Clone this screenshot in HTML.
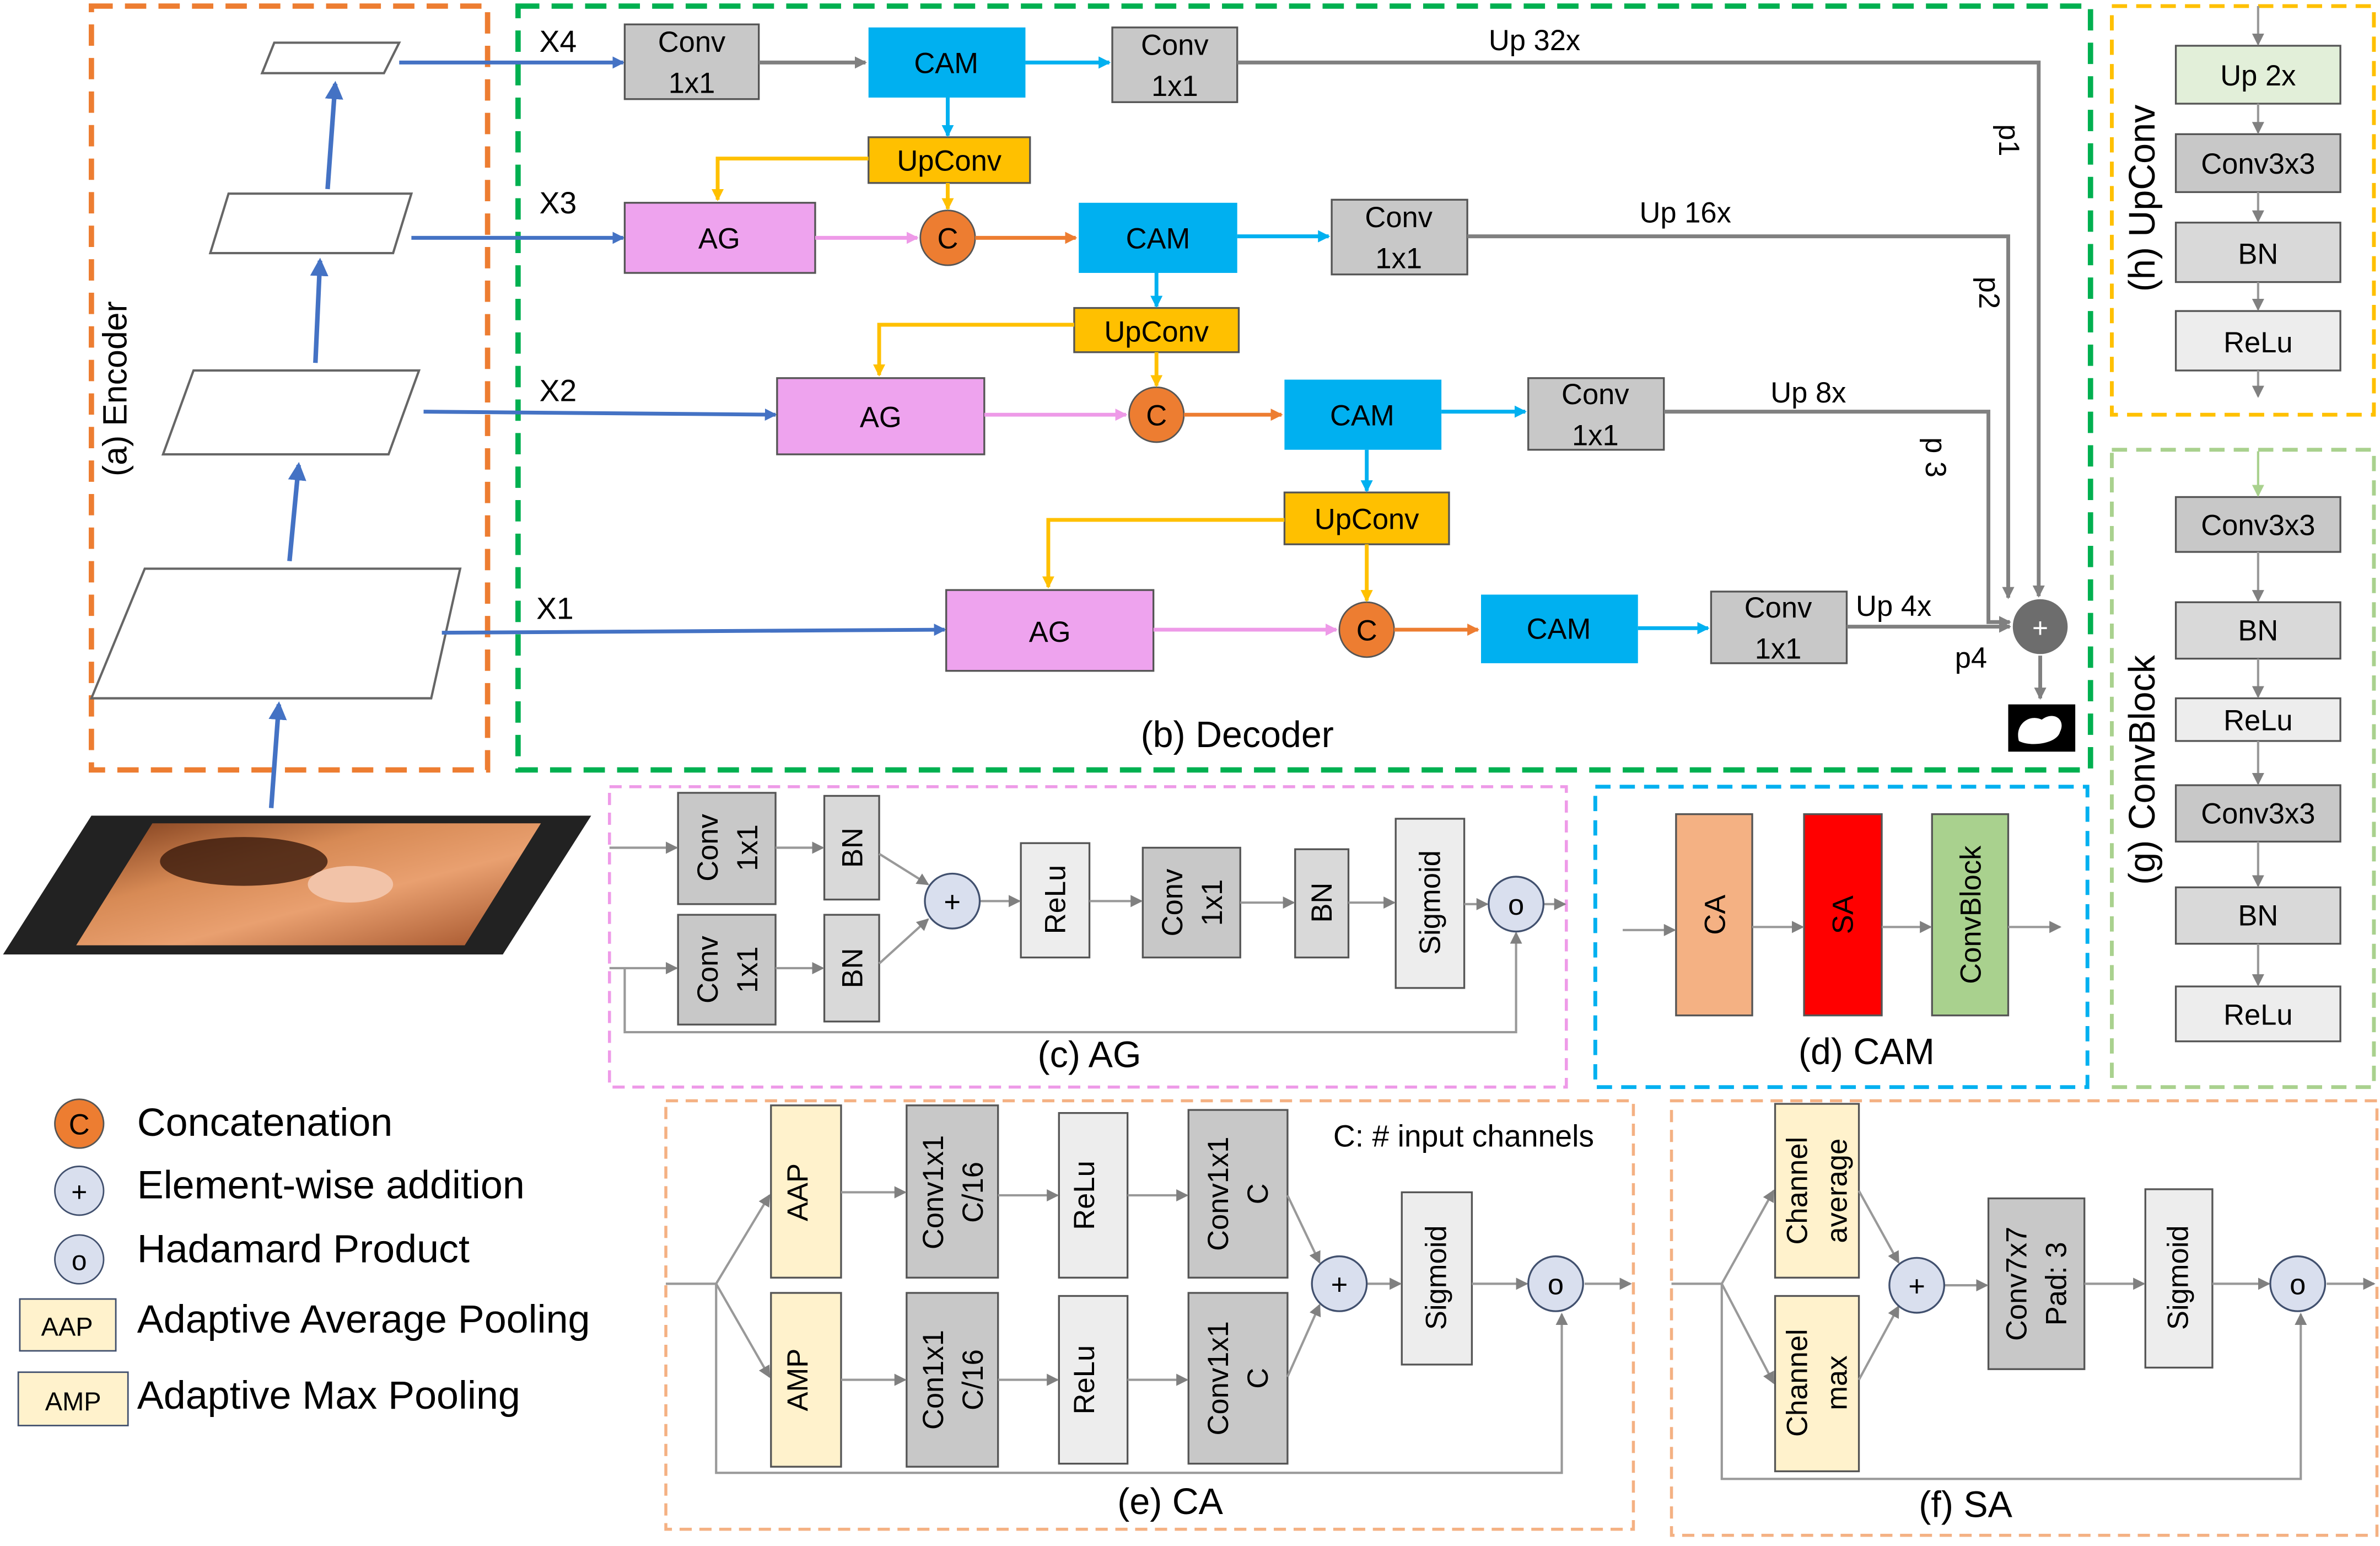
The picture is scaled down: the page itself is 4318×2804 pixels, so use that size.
<!DOCTYPE html>
<html><head><meta charset="utf-8"><style>
html,body{margin:0;padding:0;background:#fff;}
svg{display:block;}
text{font-family:"Liberation Sans",sans-serif;fill:#000;}
</style></head><body>
<svg width="4318" height="2804" viewBox="0 0 1562 1014" preserveAspectRatio="none" xmlns="http://www.w3.org/2000/svg">
<defs>
<marker id="mb" markerWidth="8" markerHeight="8" refX="7" refY="4" orient="auto" markerUnits="userSpaceOnUse"><path d="M0,0 L8,4 L0,8z" fill="#4472c4"/></marker>
<marker id="mg" markerWidth="8" markerHeight="8" refX="7" refY="4" orient="auto" markerUnits="userSpaceOnUse"><path d="M0,0 L8,4 L0,8z" fill="#808080"/></marker>
<marker id="mc" markerWidth="8" markerHeight="8" refX="7" refY="4" orient="auto" markerUnits="userSpaceOnUse"><path d="M0,0 L8,4 L0,8z" fill="#00b0f0"/></marker>
<marker id="mo" markerWidth="8" markerHeight="8" refX="7" refY="4" orient="auto" markerUnits="userSpaceOnUse"><path d="M0,0 L8,4 L0,8z" fill="#ed7d31"/></marker>
<marker id="my" markerWidth="8" markerHeight="8" refX="7" refY="4" orient="auto" markerUnits="userSpaceOnUse"><path d="M0,0 L8,4 L0,8z" fill="#ffc000"/></marker>
<marker id="mp" markerWidth="8" markerHeight="8" refX="7" refY="4" orient="auto" markerUnits="userSpaceOnUse"><path d="M0,0 L8,4 L0,8z" fill="#ee9ae8"/></marker>
<marker id="ml" markerWidth="8" markerHeight="8" refX="7" refY="4" orient="auto" markerUnits="userSpaceOnUse"><path d="M0,0 L8,4 L0,8z" fill="#a9d18e"/></marker>
<marker id="mB" markerWidth="12" markerHeight="12" refX="10" refY="6" orient="auto" markerUnits="userSpaceOnUse"><path d="M0,0 L12,6 L0,12z" fill="#4472c4"/></marker>
<linearGradient id="colon" x1="0" y1="0" x2="1" y2="1"><stop offset="0" stop-color="#7a3a1a"/><stop offset="0.35" stop-color="#d78a55"/><stop offset="0.6" stop-color="#e9a070"/><stop offset="1" stop-color="#a05028"/></linearGradient>
</defs>

<!-- Encoder -->
<rect x="60" y="4" width="260" height="501" fill="none" stroke="#ed7d31" stroke-width="3.5" stroke-dasharray="14,8"/>
<text transform="translate(83,255) rotate(-90)" text-anchor="middle" font-size="22">(a) Encoder</text>
<g fill="#fff" stroke="#666" stroke-width="1.5">
<polygon points="180,28 262,28 252,48 172,48"/>
<polygon points="150,127 270,127 258,166 138,166"/>
<polygon points="127,243 275,243 255,298 107,298"/>
<polygon points="95,373 302,373 283,458 60,458"/>
</g>
<g stroke="#4472c4" stroke-width="3" fill="none">
<line x1="178" y1="530" x2="183" y2="462" marker-end="url(#mB)"/>
<line x1="190" y1="368" x2="196" y2="305" marker-end="url(#mB)"/>
<line x1="207" y1="238" x2="210" y2="171" marker-end="url(#mB)"/>
<line x1="215" y1="124" x2="220" y2="55" marker-end="url(#mB)"/>
</g>
<polygon points="60,535 388,535 330,626 2,626" fill="#222"/>
<polygon points="100,540 355,540 305,620 50,620" fill="url(#colon)"/>
<ellipse cx="160" cy="565" rx="55" ry="16" fill="#3a1a0c" opacity="0.8"/>
<ellipse cx="230" cy="580" rx="28" ry="12" fill="#f2c3a8"/>

<!-- Decoder -->
<rect x="340" y="4" width="1032" height="501" fill="none" stroke="#00b050" stroke-width="3.5" stroke-dasharray="14,8"/>
<text x="812" y="490" text-anchor="middle" font-size="24">(b) Decoder</text>
<g font-size="20">
<text x="354" y="34">X4</text><text x="354" y="140">X3</text><text x="354" y="263">X2</text><text x="352" y="406">X1</text>
</g>
<g stroke="#4472c4" stroke-width="2.5" fill="none">
<line x1="262" y1="41" x2="409" y2="41" marker-end="url(#mb)"/>
<line x1="270" y1="156" x2="409" y2="156" marker-end="url(#mb)"/>
<line x1="278" y1="270" x2="509" y2="272" marker-end="url(#mb)"/>
<line x1="290" y1="415" x2="620" y2="413" marker-end="url(#mb)"/>
</g>
<!-- boxes -->
<g stroke="#555" stroke-width="1.2">
<rect x="410" y="16" width="88" height="49" fill="#c8c8c8"/>
<rect x="730" y="18" width="82" height="49" fill="#c8c8c8"/>
<rect x="874" y="131" width="89" height="49" fill="#c8c8c8"/>
<rect x="1003" y="248" width="89" height="47" fill="#c8c8c8"/>
<rect x="1123" y="388" width="89" height="47" fill="#c8c8c8"/>
<rect x="410" y="133" width="125" height="46" fill="#eea3ee"/>
<rect x="510" y="248" width="136" height="50" fill="#eea3ee"/>
<rect x="621" y="387" width="136" height="53" fill="#eea3ee"/>
<rect x="570" y="90" width="106" height="30" fill="#ffc000"/>
<rect x="705" y="202" width="108" height="29" fill="#ffc000"/>
<rect x="843" y="323" width="108" height="34" fill="#ffc000"/>
</g>
<g fill="#00b0f0">
<rect x="570" y="18" width="103" height="46"/>
<rect x="708" y="133" width="104" height="46"/>
<rect x="843" y="249" width="103" height="46"/>
<rect x="972" y="390" width="103" height="45"/>
</g>
<g font-size="19" text-anchor="middle">
<text x="454" y="34">Conv</text><text x="454" y="61">1x1</text>
<text x="771" y="36">Conv</text><text x="771" y="63">1x1</text>
<text x="918" y="149">Conv</text><text x="918" y="176">1x1</text>
<text x="1047" y="265">Conv</text><text x="1047" y="292">1x1</text>
<text x="1167" y="405">Conv</text><text x="1167" y="432">1x1</text>
<text x="621" y="48">CAM</text><text x="760" y="163">CAM</text><text x="894" y="279">CAM</text><text x="1023" y="419">CAM</text>
<text x="623" y="112">UpConv</text><text x="759" y="224">UpConv</text><text x="897" y="347">UpConv</text>
<text x="472" y="163">AG</text><text x="578" y="280">AG</text><text x="689" y="421">AG</text>
</g>
<g fill="#ed7d31" stroke="#555" stroke-width="1"><circle cx="622" cy="156" r="18"/><circle cx="759" cy="272" r="18"/><circle cx="897" cy="413" r="18"/></g>
<g font-size="19" text-anchor="middle"><text x="622" y="163">C</text><text x="759" y="279">C</text><text x="897" y="420">C</text></g>
<!-- connectors -->
<g stroke-width="2.5" fill="none">
<line x1="498" y1="41" x2="568" y2="41" stroke="#808080" marker-end="url(#mg)"/>
<line x1="673" y1="41" x2="728" y2="41" stroke="#00b0f0" marker-end="url(#mc)"/>
<line x1="812" y1="155" x2="872" y2="155" stroke="#00b0f0" marker-end="url(#mc)"/>
<line x1="946" y1="270" x2="1001" y2="270" stroke="#00b0f0" marker-end="url(#mc)"/>
<line x1="1075" y1="412" x2="1121" y2="412" stroke="#00b0f0" marker-end="url(#mc)"/>
<line x1="622" y1="64" x2="622" y2="89" stroke="#00b0f0" marker-end="url(#mc)"/>
<line x1="759" y1="179" x2="759" y2="201" stroke="#00b0f0" marker-end="url(#mc)"/>
<line x1="897" y1="295" x2="897" y2="322" stroke="#00b0f0" marker-end="url(#mc)"/>
<line x1="622" y1="120" x2="622" y2="137" stroke="#ffc000" marker-end="url(#my)"/>
<line x1="759" y1="231" x2="759" y2="253" stroke="#ffc000" marker-end="url(#my)"/>
<line x1="897" y1="357" x2="897" y2="394" stroke="#ffc000" marker-end="url(#my)"/>
<polyline points="570,104 471,104 471,131" stroke="#ffc000" marker-end="url(#my)"/>
<polyline points="705,213 577,213 577,246" stroke="#ffc000" marker-end="url(#my)"/>
<polyline points="843,341 688,341 688,385" stroke="#ffc000" marker-end="url(#my)"/>
<line x1="535" y1="156" x2="602" y2="156" stroke="#ee9ae8" marker-end="url(#mp)"/>
<line x1="646" y1="272" x2="739" y2="272" stroke="#ee9ae8" marker-end="url(#mp)"/>
<line x1="757" y1="413" x2="877" y2="413" stroke="#ee9ae8" marker-end="url(#mp)"/>
<line x1="640" y1="156" x2="706" y2="156" stroke="#ed7d31" marker-end="url(#mo)"/>
<line x1="777" y1="272" x2="841" y2="272" stroke="#ed7d31" marker-end="url(#mo)"/>
<line x1="915" y1="413" x2="970" y2="413" stroke="#ed7d31" marker-end="url(#mo)"/>
<polyline points="812,41 1338,41 1338,391" stroke="#808080" marker-end="url(#mg)"/>
<polyline points="963,155 1318,155 1318,392" stroke="#808080" marker-end="url(#mg)"/>
<polyline points="1092,270 1305,270 1305,408 1319,408" stroke="#808080" marker-end="url(#mg)"/>
<line x1="1212" y1="411" x2="1319" y2="411" stroke="#808080" marker-end="url(#mg)"/>
<line x1="1339" y1="430" x2="1339" y2="458" stroke="#808080" marker-end="url(#mg)"/>
</g>
<circle cx="1339" cy="411" r="18" fill="#6d6d6d"/>
<text x="1339" y="418" text-anchor="middle" font-size="18" style="fill:#fff">+</text>
<rect x="1318" y="462" width="44" height="31" fill="#000"/>
<path d="M1325,486 C1322,475 1332,468 1340,472 C1348,466 1356,472 1352,480 C1350,488 1332,490 1325,486z" fill="#fff"/>
<g font-size="19">
<text x="977" y="33">Up 32x</text><text x="1076" y="146">Up 16x</text><text x="1162" y="264">Up 8x</text><text x="1218" y="404">Up 4x</text><text x="1283" y="438">p4</text>
<text transform="translate(1312,92) rotate(90)" text-anchor="middle">p1</text>
<text transform="translate(1299,192) rotate(90)" text-anchor="middle">p2</text>
<text transform="translate(1264,300) rotate(90)" text-anchor="middle">p 3</text>
</g>

<!-- (h) UpConv -->
<rect x="1386" y="4" width="172" height="268" fill="none" stroke="#ffc000" stroke-width="2.5" stroke-dasharray="10,6"/>
<text transform="translate(1414,130) rotate(-90)" text-anchor="middle" font-size="24">(h) UpConv</text>
<g stroke="#555" stroke-width="1.2">
<rect x="1428" y="30" width="108" height="38" fill="#e2efd9"/>
<rect x="1428" y="88" width="108" height="38" fill="#c8c8c8"/>
<rect x="1428" y="146" width="108" height="39" fill="#d9d9d9"/>
<rect x="1428" y="204" width="108" height="39" fill="#ededed"/>
</g>
<g font-size="19" text-anchor="middle"><text x="1482" y="56">Up 2x</text><text x="1482" y="114">Conv3x3</text><text x="1482" y="173">BN</text><text x="1482" y="231">ReLu</text></g>
<g stroke="#999" stroke-width="1.5" fill="none">
<line x1="1482" y1="4" x2="1482" y2="29" marker-end="url(#mg)"/><line x1="1482" y1="68" x2="1482" y2="87" marker-end="url(#mg)"/>
<line x1="1482" y1="126" x2="1482" y2="145" marker-end="url(#mg)"/><line x1="1482" y1="185" x2="1482" y2="203" marker-end="url(#mg)"/>
<line x1="1482" y1="243" x2="1482" y2="260" marker-end="url(#mg)"/>
</g>

<!-- (g) ConvBlock -->
<rect x="1386" y="295" width="172" height="418" fill="none" stroke="#a9d18e" stroke-width="2.5" stroke-dasharray="10,6"/>
<text transform="translate(1414,505) rotate(-90)" text-anchor="middle" font-size="24">(g) ConvBlock</text>
<g stroke="#555" stroke-width="1.2">
<rect x="1428" y="326" width="108" height="36" fill="#c8c8c8"/>
<rect x="1428" y="395" width="108" height="37" fill="#d9d9d9"/>
<rect x="1428" y="458" width="108" height="28" fill="#ededed"/>
<rect x="1428" y="515" width="108" height="37" fill="#c8c8c8"/>
<rect x="1428" y="582" width="108" height="37" fill="#d9d9d9"/>
<rect x="1428" y="647" width="108" height="36" fill="#ededed"/>
</g>
<g font-size="19" text-anchor="middle"><text x="1482" y="351">Conv3x3</text><text x="1482" y="420">BN</text><text x="1482" y="479">ReLu</text><text x="1482" y="540">Conv3x3</text><text x="1482" y="607">BN</text><text x="1482" y="672">ReLu</text></g>
<g stroke="#999" stroke-width="1.5" fill="none">
<line x1="1482" y1="296" x2="1482" y2="325" stroke="#a9d18e" marker-end="url(#ml)"/>
<line x1="1482" y1="362" x2="1482" y2="394" marker-end="url(#mg)"/><line x1="1482" y1="432" x2="1482" y2="457" marker-end="url(#mg)"/>
<line x1="1482" y1="486" x2="1482" y2="514" marker-end="url(#mg)"/><line x1="1482" y1="552" x2="1482" y2="581" marker-end="url(#mg)"/>
<line x1="1482" y1="619" x2="1482" y2="646" marker-end="url(#mg)"/>
</g>

<!-- (c) AG -->
<rect x="400" y="516" width="628" height="197" fill="none" stroke="#ee9ae8" stroke-width="2" stroke-dasharray="8,5"/>
<text x="715" y="700" text-anchor="middle" font-size="24">(c) AG</text>
<g stroke="#555" stroke-width="1.2">
<rect x="445" y="520" width="64" height="73" fill="#c8c8c8"/><rect x="445" y="600" width="64" height="72" fill="#c8c8c8"/>
<rect x="541" y="522" width="36" height="68" fill="#d9d9d9"/><rect x="541" y="600" width="36" height="70" fill="#d9d9d9"/>
<rect x="670" y="553" width="45" height="75" fill="#ededed"/>
<rect x="750" y="556" width="64" height="72" fill="#c8c8c8"/>
<rect x="850" y="557" width="35" height="71" fill="#d9d9d9"/>
<rect x="916" y="537" width="45" height="111" fill="#ededed"/>
</g>
<g font-size="19" text-anchor="middle">
<text transform="translate(477,556) rotate(-90)"><tspan x="0" y="-6">Conv</tspan><tspan x="0" y="20">1x1</tspan></text>
<text transform="translate(477,636) rotate(-90)"><tspan x="0" y="-6">Conv</tspan><tspan x="0" y="20">1x1</tspan></text>
<text transform="translate(782,592) rotate(-90)"><tspan x="0" y="-6">Conv</tspan><tspan x="0" y="20">1x1</tspan></text>
<text transform="translate(566,556) rotate(-90)">BN</text>
<text transform="translate(566,635) rotate(-90)">BN</text>
<text transform="translate(874,592) rotate(-90)">BN</text>
<text transform="translate(699,590) rotate(-90)">ReLu</text>
<text transform="translate(945,592) rotate(-90)">Sigmoid</text>
</g>
<g stroke="#999" stroke-width="1.5" fill="none">
<line x1="400" y1="556" x2="444" y2="556" marker-end="url(#mg)"/>
<polyline points="400,635 444,635" marker-end="url(#mg)"/>
<line x1="509" y1="556" x2="540" y2="556" marker-end="url(#mg)"/><line x1="509" y1="635" x2="540" y2="635" marker-end="url(#mg)"/>
<line x1="577" y1="560" x2="609" y2="580" marker-end="url(#mg)"/><line x1="577" y1="632" x2="609" y2="603" marker-end="url(#mg)"/>
<line x1="643" y1="591" x2="669" y2="591" marker-end="url(#mg)"/><line x1="715" y1="591" x2="749" y2="591" marker-end="url(#mg)"/>
<line x1="814" y1="592" x2="849" y2="592" marker-end="url(#mg)"/><line x1="885" y1="592" x2="915" y2="592" marker-end="url(#mg)"/>
<line x1="961" y1="593" x2="976" y2="593" marker-end="url(#mg)"/><line x1="1013" y1="593" x2="1027" y2="593" marker-end="url(#mg)"/>
<polyline points="410,635 410,677 995,677 995,612" marker-end="url(#mg)"/>
</g>
<g fill="#d9dfee" stroke="#41506e" stroke-width="1.2"><circle cx="625" cy="591" r="18"/><circle cx="995" cy="593" r="18"/></g>
<g font-size="19" text-anchor="middle"><text x="625" y="598">+</text><text x="995" y="600">o</text></g>

<!-- (d) CAM -->
<rect x="1047" y="516" width="323" height="197" fill="none" stroke="#00b0f0" stroke-width="2.5" stroke-dasharray="10,6"/>
<text x="1225" y="698" text-anchor="middle" font-size="24">(d) CAM</text>
<g stroke="#555" stroke-width="1.2">
<rect x="1100" y="534" width="50" height="132" fill="#f4b183"/>
<rect x="1184" y="534" width="51" height="132" fill="#ff0000"/>
<rect x="1268" y="534" width="50" height="132" fill="#a9d18e"/>
</g>
<g font-size="19" text-anchor="middle">
<text transform="translate(1132,600) rotate(-90)">CA</text><text transform="translate(1216,600) rotate(-90)">SA</text><text transform="translate(1300,600) rotate(-90)">ConvBlock</text>
</g>
<g stroke="#999" stroke-width="1.5">
<line x1="1065" y1="610" x2="1099" y2="610" marker-end="url(#mg)"/><line x1="1150" y1="608" x2="1183" y2="608" marker-end="url(#mg)"/>
<line x1="1235" y1="608" x2="1267" y2="608" marker-end="url(#mg)"/><line x1="1318" y1="608" x2="1352" y2="608" marker-end="url(#mg)"/>
</g>

<!-- (e) CA -->
<rect x="437" y="722" width="635" height="281" fill="none" stroke="#f4b183" stroke-width="2" stroke-dasharray="8,5"/>
<text x="768" y="993" text-anchor="middle" font-size="24">(e) CA</text>
<text x="875" y="752" font-size="20">C: # input channels</text>
<g stroke="#555" stroke-width="1.2">
<rect x="506" y="725" width="46" height="113" fill="#fff2cc"/><rect x="506" y="848" width="46" height="114" fill="#fff2cc"/>
<rect x="595" y="725" width="60" height="113" fill="#c8c8c8"/><rect x="595" y="848" width="60" height="114" fill="#c8c8c8"/>
<rect x="695" y="730" width="45" height="108" fill="#ededed"/><rect x="695" y="850" width="45" height="110" fill="#ededed"/>
<rect x="780" y="728" width="65" height="110" fill="#c8c8c8"/><rect x="780" y="848" width="65" height="112" fill="#c8c8c8"/>
<rect x="920" y="782" width="46" height="113" fill="#ededed"/>
</g>
<g font-size="19" text-anchor="middle">
<text transform="translate(530,782) rotate(-90)">AAP</text><text transform="translate(530,905) rotate(-90)">AMP</text>
<text transform="translate(625,782) rotate(-90)"><tspan x="0" y="-6">Conv1x1</tspan><tspan x="0" y="20">C/16</tspan></text>
<text transform="translate(625,905) rotate(-90)"><tspan x="0" y="-6">Con1x1</tspan><tspan x="0" y="20">C/16</tspan></text>
<text transform="translate(718,784) rotate(-90)">ReLu</text><text transform="translate(718,905) rotate(-90)">ReLu</text>
<text transform="translate(812,783) rotate(-90)"><tspan x="0" y="-6">Conv1x1</tspan><tspan x="0" y="20">C</tspan></text>
<text transform="translate(812,904) rotate(-90)"><tspan x="0" y="-6">Conv1x1</tspan><tspan x="0" y="20">C</tspan></text>
<text transform="translate(949,838) rotate(-90)">Sigmoid</text>
</g>
<g stroke="#999" stroke-width="1.5" fill="none">
<polyline points="437,842 470,842"/>
<line x1="470" y1="842" x2="505" y2="784" marker-end="url(#mg)"/><line x1="470" y1="842" x2="505" y2="903" marker-end="url(#mg)"/>
<line x1="552" y1="782" x2="594" y2="782" marker-end="url(#mg)"/><line x1="552" y1="905" x2="594" y2="905" marker-end="url(#mg)"/>
<line x1="655" y1="784" x2="694" y2="784" marker-end="url(#mg)"/><line x1="655" y1="905" x2="694" y2="905" marker-end="url(#mg)"/>
<line x1="740" y1="784" x2="779" y2="784" marker-end="url(#mg)"/><line x1="740" y1="905" x2="779" y2="905" marker-end="url(#mg)"/>
<line x1="845" y1="784" x2="866" y2="828" marker-end="url(#mg)"/><line x1="845" y1="903" x2="866" y2="856" marker-end="url(#mg)"/>
<line x1="897" y1="842" x2="919" y2="842" marker-end="url(#mg)"/><line x1="966" y1="842" x2="1002" y2="842" marker-end="url(#mg)"/>
<line x1="1040" y1="842" x2="1070" y2="842" marker-end="url(#mg)"/>
<polyline points="470,842 470,966 1025,966 1025,862" marker-end="url(#mg)"/>
</g>
<g fill="#d9dfee" stroke="#41506e" stroke-width="1.2"><circle cx="879" cy="842" r="18"/><circle cx="1021" cy="842" r="18"/></g>
<g font-size="19" text-anchor="middle"><text x="879" y="849">+</text><text x="1021" y="849">o</text></g>

<!-- (f) SA -->
<rect x="1097" y="722" width="463" height="285" fill="none" stroke="#f4b183" stroke-width="2" stroke-dasharray="8,5"/>
<text x="1290" y="995" text-anchor="middle" font-size="24">(f) SA</text>
<g stroke="#555" stroke-width="1.2">
<rect x="1165" y="724" width="55" height="114" fill="#fff2cc"/><rect x="1165" y="850" width="55" height="115" fill="#fff2cc"/>
<rect x="1305" y="786" width="63" height="112" fill="#c8c8c8"/>
<rect x="1408" y="780" width="44" height="117" fill="#ededed"/>
</g>
<g font-size="19" text-anchor="middle">
<text transform="translate(1192,781) rotate(-90)"><tspan x="0" y="-6">Channel</tspan><tspan x="0" y="20">average</tspan></text>
<text transform="translate(1192,907) rotate(-90)"><tspan x="0" y="-6">Channel</tspan><tspan x="0" y="20">max</tspan></text>
<text transform="translate(1336,842) rotate(-90)"><tspan x="0" y="-6">Conv7x7</tspan><tspan x="0" y="20">Pad: 3</tspan></text>
<text transform="translate(1436,838) rotate(-90)">Sigmoid</text>
</g>
<g stroke="#999" stroke-width="1.5" fill="none">
<polyline points="1097,842 1130,842"/>
<line x1="1130" y1="842" x2="1164" y2="781" marker-end="url(#mg)"/><line x1="1130" y1="842" x2="1164" y2="907" marker-end="url(#mg)"/>
<line x1="1220" y1="781" x2="1246" y2="828" marker-end="url(#mg)"/><line x1="1220" y1="905" x2="1246" y2="857" marker-end="url(#mg)"/>
<line x1="1276" y1="843" x2="1304" y2="843" marker-end="url(#mg)"/><line x1="1368" y1="842" x2="1407" y2="842" marker-end="url(#mg)"/>
<line x1="1452" y1="842" x2="1489" y2="842" marker-end="url(#mg)"/><line x1="1527" y1="842" x2="1558" y2="842" marker-end="url(#mg)"/>
<polyline points="1130,842 1130,970 1510,970 1510,862" marker-end="url(#mg)"/>
</g>
<g fill="#d9dfee" stroke="#41506e" stroke-width="1.2"><circle cx="1258" cy="843" r="18"/><circle cx="1508" cy="842" r="18"/></g>
<g font-size="19" text-anchor="middle"><text x="1258" y="850">+</text><text x="1508" y="849">o</text></g>

<!-- Legend -->
<circle cx="52" cy="737" r="16" fill="#ed7d31" stroke="#555"/>
<text x="52" y="744" text-anchor="middle" font-size="19">C</text>
<circle cx="52" cy="781" r="16" fill="#d9dfee" stroke="#41506e"/>
<text x="52" y="788" text-anchor="middle" font-size="18">+</text>
<circle cx="52" cy="826" r="16" fill="#d9dfee" stroke="#41506e"/>
<text x="52" y="833" text-anchor="middle" font-size="18">o</text>
<rect x="13" y="852" width="63" height="34" fill="#fff2cc" stroke="#41506e"/>
<text x="44" y="876" text-anchor="middle" font-size="17">AAP</text>
<rect x="12" y="900" width="72" height="35" fill="#fff2cc" stroke="#41506e"/>
<text x="48" y="925" text-anchor="middle" font-size="17">AMP</text>
<g font-size="26">
<text x="90" y="745">Concatenation</text>
<text x="90" y="786">Element-wise addition</text>
<text x="90" y="828">Hadamard Product</text>
<text x="90" y="874">Adaptive Average Pooling</text>
<text x="90" y="924">Adaptive Max Pooling</text>
</g>
</svg>
</body></html>
